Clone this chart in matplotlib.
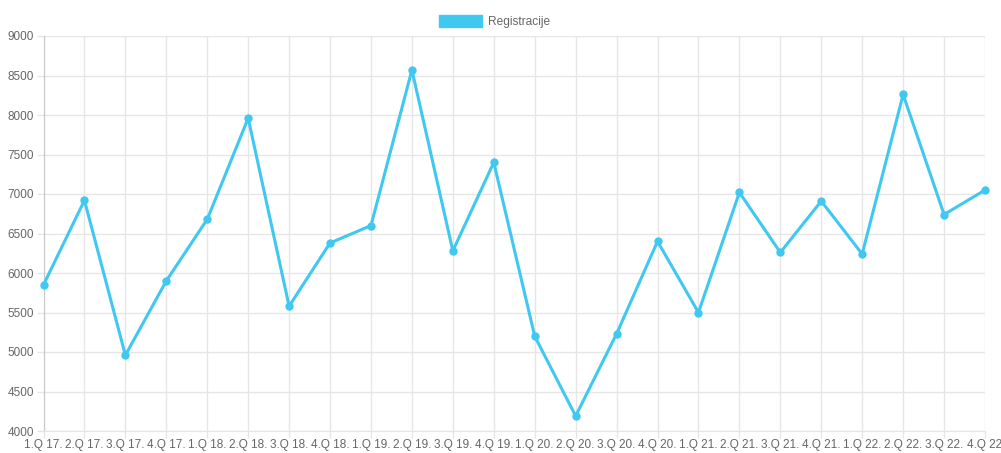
import matplotlib
matplotlib.use("Agg")
import matplotlib.pyplot as plt
from matplotlib.patches import Patch

categories = ["1.Q 17.", "2.Q 17.", "3.Q 17.", "4.Q 17.", "1.Q 18.", "2.Q 18.", "3.Q 18.", "4.Q 18.",
              "1.Q 19.", "2.Q 19.", "3.Q 19.", "4.Q 19.", "1.Q 20.", "2.Q 20.", "3.Q 20.", "4.Q 20.",
              "1.Q 21.", "2.Q 21.", "3.Q 21.", "4.Q 21.", "1.Q 22.", "2.Q 22.", "3.Q 22.", "4.Q 22"]
registracije = [5850, 6920, 4960, 5900, 6680, 7960, 5580, 6380,
                6600, 8570, 6280, 7400, 5200, 4190, 5230, 6400,
                5500, 7020, 6260, 6910, 6240, 8260, 6740, 7050]
yticks = list(range(4000, 9001, 500))

plt.rcParams['font.family'] = ['Liberation Sans', 'DejaVu Sans']
color = '#40c8f0'
W, H = 1001, 453
fig = plt.figure(figsize=(W/100, H/100), dpi=100)
ax = fig.add_axes([43.5/W, (H-431)/H, (985-43.5)/W, (431-36)/H])
x = list(range(len(categories)))
ax.plot(x, registracije, color=color, lw=2.2, marker='o', ms=5, zorder=3, clip_on=False)
ax.set_xlim(0, len(categories)-1)
ax.set_ylim(4000, 9000)
ax.set_yticks(yticks)
ax.set_xticks(x)
ax.set_xticklabels(categories)
ax.grid(True, color='#e6e6e6', lw=1)
for s in ['top', 'right']:
    ax.spines[s].set_visible(False)
ax.spines['left'].set_color('#c8c8c8')
ax.spines['bottom'].set_color('#e6e6e6')
ax.tick_params(axis='both', colors='#e6e6e6', labelcolor='#666666', labelsize=8.5, length=5, width=1, pad=2)
ax.tick_params(axis='x', pad=1)
ax.set_axisbelow(True)
leg = fig.legend(handles=[Patch(facecolor=color, edgecolor=color, label='Registracije')],
                 loc='center', bbox_to_anchor=(495/W, 1-21.5/H), frameon=False,
                 handlelength=3.6, handleheight=1.1, handletextpad=0.5, fontsize=8.6)
for t in leg.get_texts():
    t.set_color('#666666')
fig.savefig('out.png', dpi=100)
